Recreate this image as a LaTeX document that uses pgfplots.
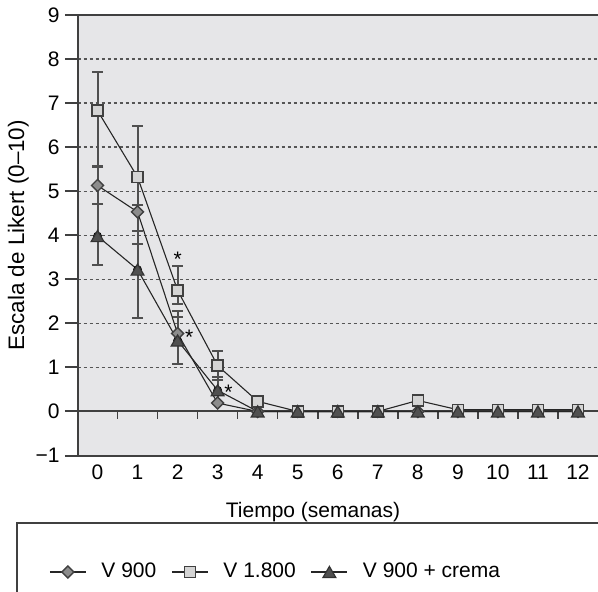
\documentclass[border=0pt]{standalone}
\usepackage{pgfplots}
\pgfplotsset{compat=1.18}
\usepackage{pgfplotstable}
\usepackage{fontspec}
\setmainfont{Liberation Sans}

\definecolor{bg}{RGB}{230,230,232}
\definecolor{spine}{RGB}{64,64,64}
\definecolor{gridc}{RGB}{85,85,85}
\definecolor{errc}{RGB}{80,80,80}
\definecolor{dmd}{RGB}{140,140,140}
\definecolor{sqr}{RGB}{212,212,212}
\definecolor{tri}{RGB}{80,80,80}

\pgfplotstableread{
x y
0 5.13
1 4.53
2 1.77
3 0.19
4 0
5 0
6 0
7 0
8 0
9 0
10 0
11 0
12 0
}\dmdtab
\pgfplotstableread{
x y
0 6.83
1 5.32
2 2.75
3 1.04
4 0.23
5 0
6 0
7 0
8 0.25
9 0.04
10 0.04
11 0.04
12 0.04
}\sqrtab
\pgfplotstableread{
x y
0 3.98
1 3.22
2 1.61
3 0.48
4 0
5 0
6 0
7 0
8 0
9 0
10 0
11 0
12 0
}\tritab
\pgfplotstableread{
x y ep em
0 5.13 0.45 0.41
1 4.53 0.72 0.72
2 1.77 0.52 0.69
}\dmderr
\pgfplotstableread{
x y ep em
0 6.83 0.87 1.27
1 5.32 1.17 0.64
2 2.75 0.56 0.32
3 1.04 0.33 0.33
}\sqrerr
\pgfplotstableread{
x y ep em
0 3.98 0.74 0.66
1 3.22 0.87 1.10
2 1.61 0.53 0.53
3 0.48 0.30 0.30
}\trierr

\begin{document}
\begin{tikzpicture}[font=\fontsize{10.5}{12}\selectfont]
\path[use as bounding box] (0,0) rectangle (299pt,295.5pt);
\begin{axis}[
  at={(38.75pt,67.75pt)}, anchor=south west,
  scale only axis, width=260.25pt, height=220.25pt,
  xmin=-0.5, xmax=12.5, ymin=-1, ymax=9,
  clip=false,
  axis line style={draw=none},
  axis background/.style={fill=bg},
  xtick={0,1,2,3,4,5,6,7,8,9,10,11,12},
  xticklabels={0,1,2,3,4,5,6,7,8,9,10,11,12},
  xtick style={draw=none},
  ytick={-1,0,1,2,3,4,5,6,7,8,9},
  yticklabels={−1,0,1,2,3,4,5,6,7,8,9},
  ytick pos=left,
  tick align=outside,
  major tick length=6.3pt,
  ytick style={draw=spine, line width=1pt},
  yticklabel style={inner xsep=2.5pt},
  xticklabel style={inner ysep=2pt, yshift=3.8pt},
  ymajorgrids,
  major grid style={draw=gridc, line width=0.7pt, dash pattern=on 1.6pt off 1.4pt},
  xlabel={Tiempo (semanas)},
  xlabel style={at={(axis description cs:0.4525,-0.1283)}, anchor=center},
  ylabel={Escala de Likert (0–10)},
  ylabel style={at={(axis description cs:-0.1137,0.5)}, anchor=center, font=\fontsize{11.2}{13}\selectfont},
  legend style={at={(axis description cs:-0.0548,-0.2645)}, anchor=west, draw=none, fill=none,
    legend columns=3, inner sep=0pt,
    /tikz/every even column/.append style={column sep=7.5pt},
    /tikz/every odd column/.append style={column sep=7.5pt},
    nodes={inner sep=0pt}},
  legend image code/.code={\draw[mark repeat=2, mark phase=2, #1] plot coordinates {(0pt,0pt) (9pt,0pt) (18pt,0pt)};},
]
% zero line and its ticks
\draw[spine, line width=1pt] (axis cs:-0.5,0) -- (axis cs:12.5,0);
\pgfplotsinvokeforeach{0.5,1.5,2.5,3.5,4.5,5.5,6.5,7.5,8.5,9.5,10.5,11.5}{
  \draw[spine, line width=0.8pt] (axis cs:#1,0) -- ([yshift=-4pt]axis cs:#1,0);
}
% error bars
\addplot[only marks, mark=none, forget plot,
  error bars/.cd, y dir=both, y explicit,
  error bar style={draw=errc, line width=1pt},
  error mark options={draw=errc, rotate=90, mark size=2.75pt, line width=1pt}]
  table[x=x, y=y, y error plus=ep, y error minus=em] {\dmderr};
\addplot[only marks, mark=none, forget plot,
  error bars/.cd, y dir=both, y explicit,
  error bar style={draw=errc, line width=1pt},
  error mark options={draw=errc, rotate=90, mark size=2.75pt, line width=1pt}]
  table[x=x, y=y, y error plus=ep, y error minus=em] {\sqrerr};
\addplot[only marks, mark=none, forget plot,
  error bars/.cd, y dir=both, y explicit,
  error bar style={draw=errc, line width=1pt},
  error mark options={draw=errc, rotate=90, mark size=2.75pt, line width=1pt}]
  table[x=x, y=y, y error plus=ep, y error minus=em] {\trierr};
% series
\addplot[draw=black!85, line width=0.55pt, mark=square*, mark size=2.12pt,
  mark options={rotate=45, fill=dmd, draw=spine, line width=0.7pt, solid}]
  table[x=x, y=y] {\dmdtab};
\addlegendentry{V 900}
\addplot[draw=black!85, line width=0.55pt, mark=square*, mark size=2.75pt,
  mark options={fill=sqr, draw=spine, line width=0.7pt, solid}]
  table[x=x, y=y] {\sqrtab};
\addlegendentry{V 1.800}
\addplot[draw=black!85, line width=0.55pt, mark=triangle*, mark size=3.7pt,
  mark options={fill=tri, draw=black!80, line width=0.6pt, solid, yshift=-0.9pt}]
  table[x=x, y=y] {\tritab};
\addlegendentry{V 900 + crema}
% significance marks
\node[anchor=base, inner sep=0pt] at (axis cs:2,3.3) {*};
\node[anchor=base, inner sep=0pt] at (axis cs:2.29,1.53) {*};
\node[anchor=base, inner sep=0pt] at (axis cs:3.27,0.28) {*};
% frame
\draw[spine, line width=1pt] (rel axis cs:0,0) -- (rel axis cs:1,0);
\draw[spine, line width=1pt] (rel axis cs:0,0) -- (rel axis cs:0,1);
\draw[spine, line width=1pt] (rel axis cs:0,1) -- (rel axis cs:1,1);
\end{axis}
\draw[spine, line width=1pt] (8.5pt,34pt) rectangle (330pt,-20pt);
\end{tikzpicture}
\end{document}
